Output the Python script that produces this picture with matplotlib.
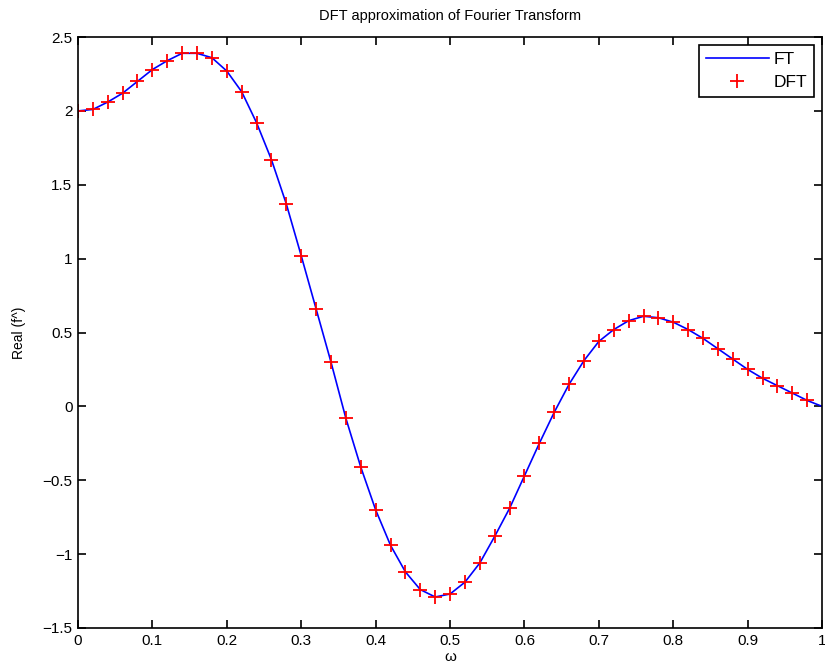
import matplotlib
matplotlib.use('Agg')
import matplotlib.pyplot as plt

# DFT samples
omega_dft = [0.00, 0.02, 0.04, 0.06, 0.08, 0.10, 0.12, 0.14, 0.16, 0.18,
             0.20, 0.22, 0.24, 0.26, 0.28, 0.30, 0.32, 0.34, 0.36, 0.38,
             0.40, 0.42, 0.44, 0.46, 0.48, 0.50, 0.52, 0.54, 0.56, 0.58,
             0.60, 0.62, 0.64, 0.66, 0.68, 0.70, 0.72, 0.74, 0.76, 0.78,
             0.80, 0.82, 0.84, 0.86, 0.88, 0.90, 0.92, 0.94, 0.96, 0.98]
real_dft = [2.00, 2.01, 2.06, 2.12, 2.20, 2.28, 2.34, 2.39, 2.39, 2.36,
            2.27, 2.13, 1.92, 1.67, 1.37, 1.02, 0.66, 0.30, -0.08, -0.41,
            -0.70, -0.94, -1.12, -1.24, -1.29, -1.27, -1.19, -1.06, -0.88, -0.69,
            -0.47, -0.25, -0.04, 0.15, 0.31, 0.44, 0.52, 0.58, 0.61, 0.60,
            0.57, 0.52, 0.46, 0.39, 0.32, 0.25, 0.19, 0.14, 0.09, 0.04]

# continuous FT curve
omega_ft = omega_dft + [1.00]
real_ft = real_dft + [0.00]

plt.rcParams['font.family'] = ['Liberation Sans', 'DejaVu Sans']

fig = plt.figure(figsize=(8.25, 6.7), dpi=100)
ax = fig.add_axes([0.0945, 0.0627, 0.902, 0.882])
ax.plot(omega_ft, real_ft, color='blue', linewidth=1.2, label='FT')
ax.plot(omega_dft, real_dft, '+', color='red', markersize=10,
        markeredgewidth=1.3, label='DFT')
ax.set_xlim(0, 1)
ax.set_ylim(-1.5, 2.5)
ax.set_xticks([0, 0.1, 0.2, 0.3, 0.4, 0.5, 0.6, 0.7, 0.8, 0.9, 1])
ax.set_xticklabels(['0', '0.1', '0.2', '0.3', '0.4', '0.5', '0.6', '0.7', '0.8', '0.9', '1'])
ax.set_yticks([-1.5, -1, -0.5, 0, 0.5, 1, 1.5, 2, 2.5])
ax.set_yticklabels(['\u22121.5', '\u22121', '\u22120.5', '0', '0.5', '1', '1.5', '2', '2.5'])
ax.tick_params(direction='in', top=True, right=True, length=6, width=1.2,
               labelsize=11, pad=4)
for s in ax.spines.values():
    s.set_linewidth(1.2)
ax.set_xlabel('ω', fontsize=11, labelpad=2)
ax.set_ylabel('Real (f^)', fontsize=10, labelpad=12)
ax.set_title('DFT approximation of Fourier Transform', fontsize=10.5, pad=12)
leg = ax.legend(loc='upper right', fancybox=False, edgecolor='black',
                framealpha=1, fontsize=12.5, handlelength=3.6,
                borderaxespad=0.45, borderpad=0.4, labelspacing=0.45,
                handletextpad=0.3)
leg.get_frame().set_linewidth(1.2)

plt.savefig('out.png', dpi=100)
